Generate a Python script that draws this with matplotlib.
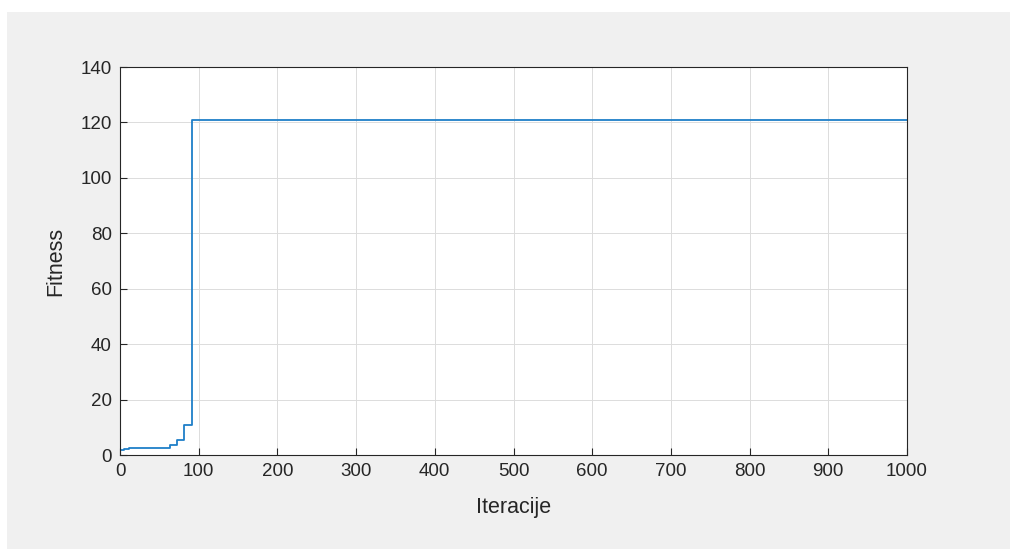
import matplotlib

matplotlib.use("Agg")
import matplotlib.pyplot as plt
from matplotlib.patches import Rectangle

# step breakpoints of best fitness per iteration
iterations = [0, 5, 12, 20, 63, 72, 81, 91, 1000]
fitness = [1.8, 2.2, 2.4, 2.6, 3.7, 5.4, 10.8, 121.0, 121.0]

x_ticks = list(range(0, 1001, 100))
y_ticks = list(range(0, 141, 20))

W, H = 1010, 549
fig = plt.figure(figsize=(W / 100, H / 100), dpi=100, facecolor="white")
fig.patches.append(Rectangle((7 / W, 0), 1, 1 - 12 / H, transform=fig.transFigure,
                             facecolor="#f0f0f0", edgecolor="none", zorder=-1))

plt.rcParams["font.family"] = ["Liberation Sans", "DejaVu Sans"]

ax = fig.add_axes([120 / W, 1 - 455 / H, (907 - 120) / W, (455 - 67) / H])
ax.set_facecolor("white")
ax.step(iterations, fitness, where="post", color="#1f7fc8", linewidth=1.3)

ax.set_xlim(0, 1000)
ax.set_ylim(0, 140)
ax.set_xticks(x_ticks)
ax.set_yticks(y_ticks)
ax.grid(True, color="#dcdcdc", linewidth=0.7)
ax.set_axisbelow(True)
ax.tick_params(direction="in", length=5, width=0.8, colors="#262626", labelsize=13.5, pad=6)
for s in ax.spines.values():
    s.set_color("#262626")
    s.set_linewidth(0.8)

ax.set_xlabel("Iteracije", fontsize=15.5, color="#262626", labelpad=12)
ax.set_ylabel("Fitness", fontsize=15.5, color="#262626", labelpad=10)

fig.savefig("out.png", dpi=100, facecolor=fig.get_facecolor())
